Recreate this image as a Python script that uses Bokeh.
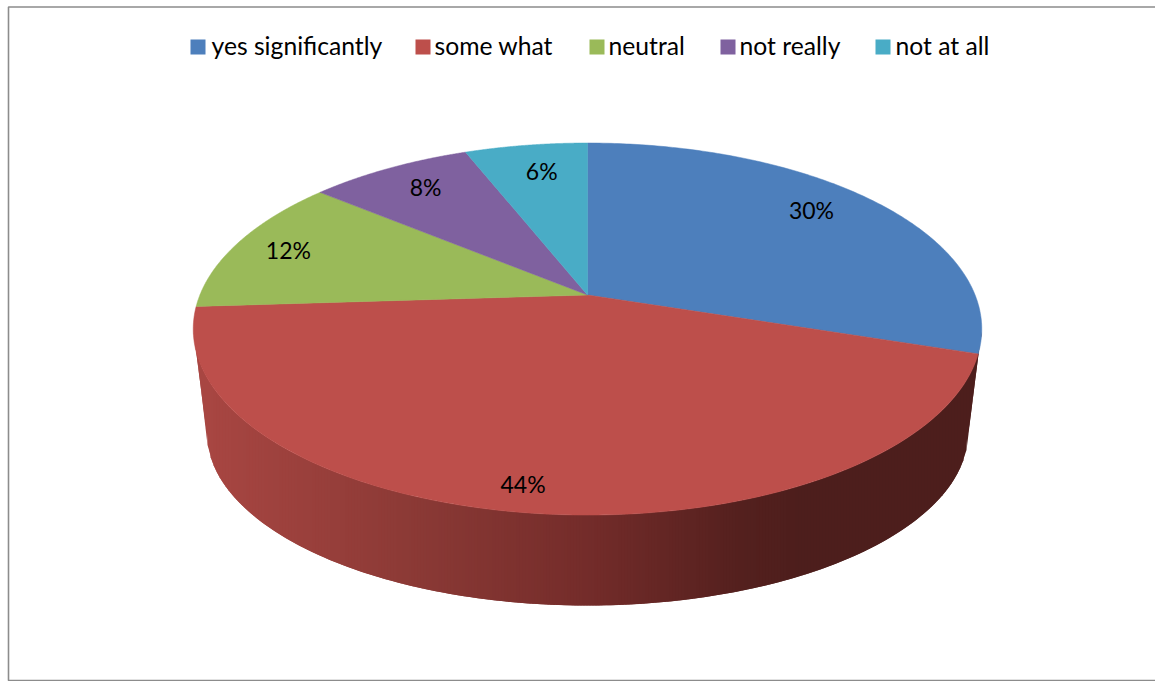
import numpy as np
from bokeh.core.properties import value
from bokeh.embed import file_html
from bokeh.models import Range1d
from bokeh.plotting import figure
from bokeh.resources import INLINE

# Survey answers, clockwise from twelve o'clock
categories = ["yes significantly", "some what", "neutral", "not really", "not at all"]
shares = [30, 44, 12, 8, 6]
colors = ["#4d7fbc", "#bd4f4b", "#9aba59", "#7f619f", "#49acc6"]

# Legend layout: left edge of each swatch and of each caption
swatch_left = [190, 415, 589, 720, 875]
caption_left = [211, 434, 608, 739, 895]

# Percentage labels: shift from the anchor on each slice's middle direction
label_shift = [(-7, -7), (-19, 22), (-17, -2), (1, -4), (5, 0)]

# Perspective disc: apex, half axes and foreshortening of the upper and lower rims
CX = 587.0
TOP_Y, TOP_A, TOP_B = 294.5, 387.6, 179.8
LOW_Y, LOW_A, LOW_B = 400.0, 374.6, 167.5
K = 0.183
FONT = value("Lato")


def project(theta, radius, apex_y, a, b):
    d = 1 + K * radius * np.cos(theta)
    return CX + a * radius * np.sin(theta) / d, apex_y - b * radius * np.cos(theta) / d


def shaded(x, stops):
    xs = [s[0] for s in stops]
    rgb = [np.interp(x, xs, [s[1][i] for s in stops]) for i in range(3)]
    return "#%02x%02x%02x" % tuple(int(round(c)) for c in rgb)


red_wall = [
    (205, (168, 70, 66)),
    (420, (138, 57, 53)),
    (587, (116, 44, 42)),
    (740, (84, 32, 30)),
    (800, (77, 30, 28)),
]

p = figure(
    width=1155,
    height=681,
    output_backend="svg",
    toolbar_location=None,
    x_range=Range1d(0, 1155),
    y_range=Range1d(681, 0),
    min_border=0,
    outline_line_color=None,
    background_fill_color="white",
    border_fill_color="white",
)
p.axis.visible = False
p.grid.visible = False

# Frame of the chart area, running off the right side
p.line([1160, 8, 8, 1160], [6.5, 6.5, 680, 680], line_color="#8c8c8c", line_width=1.6)

boundaries = 2 * np.pi * np.cumsum([0] + shares) / sum(shares)

# Side wall: overlapping vertical columns between the front of the upper rim and
# the outline of the lower rim; each one is painted over the tail of the last
front = np.radians(np.linspace(100.5, 259.5, 900))
upper_x, upper_y = project(front, 1, TOP_Y, TOP_A, TOP_B)
lower_x, lower_y = project(front, 1, LOW_Y, LOW_A, LOW_B)
order_up = np.argsort(upper_x)
order_low = np.argsort(lower_x)
outline_x = np.r_[upper_x.min(), lower_x[order_low], upper_x.max()]
outline_y = np.r_[upper_y[order_up][0], lower_y[order_low], upper_y[order_up][-1]]

edges = np.arange(np.floor(upper_x.min()), np.ceil(upper_x.max()) + 1, 3.0)
edges = np.clip(edges, upper_x.min(), upper_x.max())
xs, ys, fills = [], [], []
for x0, x1 in zip(edges[:-1], edges[1:]):
    x1 = min(x1 + 3, upper_x.max())
    tops = np.interp([x0, x1], upper_x[order_up], upper_y[order_up])
    lows = np.interp([x0, x1], outline_x, outline_y)
    xs.append([x0, x1, x1, x0])
    ys.append([tops[0], tops[1], lows[1], lows[0]])
    fills.append(shaded(x0 + 1.5, red_wall))
p.patches(xs, ys, fill_color=fills, line_color=None)

# Top face of the disc
for start, end, color in zip(boundaries[:-1], boundaries[1:], colors):
    angles = np.linspace(start, end, 160)
    rim_x, rim_y = project(angles, 1, TOP_Y, TOP_A, TOP_B)
    p.patch(
        np.r_[CX, rim_x],
        np.r_[TOP_Y, rim_y],
        fill_color=color,
        line_color=color,
        line_width=0.5,
    )

# Percentage labels
mids = (boundaries[:-1] + boundaries[1:]) / 2
anchor_x, anchor_y = project(mids, 0.8, TOP_Y, TOP_A, TOP_B)
p.text(
    anchor_x + np.array([s[0] for s in label_shift]),
    anchor_y + np.array([s[1] for s in label_shift]),
    text=[f"{v}%" for v in shares],
    text_font=FONT,
    text_font_size="23px",
    text_color="#000000",
    text_align="center",
    text_baseline="middle",
)

# Legend row
p.quad(
    left=swatch_left,
    right=[x + 15 for x in swatch_left],
    top=[39] * 5,
    bottom=[54] * 5,
    fill_color=colors,
    line_color=None,
)
p.text(
    caption_left,
    [44.5] * 5,
    text=categories,
    text_font=FONT,
    text_font_size="24.7px",
    text_color="#000000",
    text_align="left",
    text_baseline="middle",
)

open("out.html", "w").write(file_html(p, INLINE))
